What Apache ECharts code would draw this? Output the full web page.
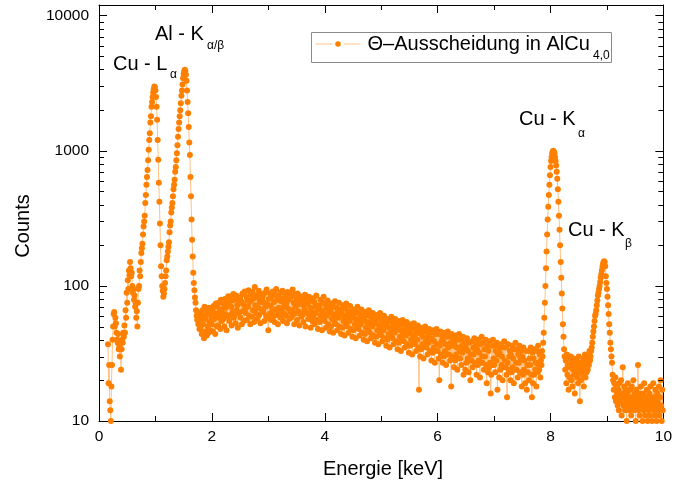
<!DOCTYPE html>
<html><head><meta charset="utf-8">
<script src="https://cdn.jsdelivr.net/npm/echarts@6/dist/echarts.min.js"></script>
<style>html,body{margin:0;padding:0;background:#fff}#c{width:675px;height:484px}</style>
</head><body><div id="c"></div>
<script>
// channel calibration of the spectrum (keV)
const energyStartChannel = 16;   // first channel = 0.16 keV
const channelsPerKeV = 100;      // 0.01 keV per channel

// counts per channel, one row = 0.1 keV
const counts = [
 37,19,26,14,
 12,10,18,26,40,50,62,64,50,58,
 53,45,40,38,44,34,36,30,34,24,
 34,40,38,45,42,51,45,66,58,89,
 75,110,95,130,120,150,135,118,125,100,
 89,95,79,85,70,75,58,65,50,75,
 95,100,130,118,150,175,190,205,240,275,
 300,330,410,470,560,640,720,850,1020,1200,
 1350,1620,1800,2120,2300,2500,2700,2850,2990,2950,
 2800,2500,2120,1700,1200,860,580,420,290,200,
 140,118,100,92,83,88,95,105,118,130,
 155,165,180,195,210,250,280,300,350,380,
 410,460,520,560,610,700,760,850,960,1100,
 1270,1450,1620,1800,2000,2250,2550,2800,3100,3450,
 3700,3900,3980,3900,3650,3300,2800,2300,1900,1500,
 1150,930,640,460,310,220,165,125,105,93,
 82,75,66,60,56,62,52,58,48,55,
 48,63,44,66,52,59,41,70,57,46,
 61,43,66,50,45,69,54,47,63,58,
 52,67,46,71,57,63,44,74,60,50,
 70,51,75,58,64,48,79,55,67,60,
 57,73,50,80,62,69,47,76,59,84,
 74,55,83,61,70,51,78,64,87,58,
 60,79,53,85,66,72,49,81,63,75,
 82,58,77,52,88,65,73,55,91,68,
 63,84,56,79,70,93,60,76,52,86,
 78,59,90,66,81,54,98,72,63,85,
 57,82,69,92,61,76,53,87,67,79,
 84,64,75,55,89,70,60,94,73,58,
 47,80,62,88,71,56,83,65,91,59,
 76,54,86,67,95,61,79,52,84,69,
 63,89,58,77,66,92,55,81,71,62,
 85,60,74,53,90,68,79,57,87,64,
 58,83,66,94,61,75,52,86,70,63,
 79,56,88,65,73,51,84,62,77,59,
 61,80,54,71,66,86,50,75,63,82,
 74,57,83,60,69,49,78,64,55,81,
 58,76,52,70,63,85,56,72,48,67,
 71,54,79,60,66,47,75,57,83,62,
 55,73,49,68,60,78,52,64,71,46,
 66,50,74,57,62,45,70,54,77,59,
 52,69,47,64,58,75,50,61,67,44,
 63,49,72,55,60,43,68,53,74,57,
 50,65,45,61,55,71,48,58,64,42,
 60,47,67,52,57,41,64,50,70,55,
 48,62,43,58,52,67,45,56,61,40,
 57,44,64,49,54,39,61,47,66,52,
 45,59,41,55,50,63,43,53,58,38,
 54,42,61,47,52,37,58,45,63,49,
 43,56,39,52,47,60,41,50,55,36,
 51,40,57,44,49,35,55,42,59,46,
 41,53,37,50,45,57,39,48,52,34,
 49,38,55,42,47,33,52,40,56,44,
 39,51,35,47,43,54,37,45,50,32,
 46,36,52,40,44,31,49,38,53,42,
 37,48,33,45,40,51,35,17,47,30,
 44,34,49,37,42,29,46,36,50,39,
 35,46,31,42,38,48,33,40,45,28,
 41,32,47,35,39,27,44,33,48,37,
 33,44,29,20,36,46,31,39,42,27,
 39,30,45,33,37,26,42,31,46,35,
 31,42,28,38,18,44,30,36,40,25,
 37,28,43,31,35,24,40,29,44,33,
 29,40,26,36,32,42,22,34,38,24,
 35,27,41,29,33,23,38,28,20,31,
 28,39,25,35,31,41,27,33,37,22,
 34,26,40,28,32,21,37,27,42,30,
 27,38,24,34,30,40,26,19,36,23,
 33,25,39,27,16,22,36,26,40,29,
 26,36,23,33,28,38,17,31,35,21,
 32,24,37,26,30,20,35,25,39,28,
 25,35,22,15,27,37,24,30,33,20,
 31,23,36,25,29,19,34,24,38,27,
 24,34,21,31,27,36,23,29,33,18,
 30,22,35,24,28,19,33,23,17,26,
 23,33,20,29,26,35,22,15,32,19,
 29,22,34,24,27,18,33,23,36,26,
 24,31,21,28,26,33,30,38,45,58,
 75,100,135,180,240,310,385,470,560,660,
 760,840,900,960,990,1000,985,960,900,840,
 780,700,620,520,420,330,260,200,150,115,
 88,68,52,42,34,30,24,28,19,31,
 22,26,17,29,21,25,30,20,27,18,
 24,29,22,16,26,23,28,21,25,19,
 30,23,14,27,20,24,26,22,29,18,
 25,31,21,27,23,28,24,30,26,33,
 28,30,33,35,38,42,46,50,55,60,
 62,66,72,78,85,89,95,100,107,115,
 122,130,138,145,150,152,150,140,118,105,
 95,83,72,62,52,45,38,34,30,27,
 22,20,17,19,15,21,14,18,16,13,
 17,12,19,15,14,20,11,16,25,13,
 15,18,12,17,14,10,16,19,13,15,
 12,17,14,11,18,15,13,20,12,16,
 14,10,17,13,15,26,12,16,11,14,
 18,13,15,10,16,12,19,14,11,15,
 13,17,10,14,12,16,11,18,13,15,
 10,14,19,12,15,11,17,13,10,16,
 14,12,18,11,15,20,13,10,17,12
];

const seriesName = 'Θ–Ausscheidung in AlCu';
const seriesSub = '4,0';
const xTicks = [0, 2, 4, 6, 8, 10];
const yTickLabels = [10, 100, 1000, 10000];
const yMinorTicks = [20,30,40,50,60,70,80,90,200,300,400,500,600,700,800,900,2000,3000,4000,5000,6000,7000,8000,9000];
const annotations = [
  {main: 'Al - K', sub: 'α/β'},
  {main: 'Cu - L', sub: 'α'},
  {main: 'Cu - K', sub: 'α'},
  {main: 'Cu - K', sub: 'β'}
];
const xTitle = 'Energie [keV]';
const yTitle = 'Counts';

const xMin = 0, xMax = 10, yMin = 10, yMax = 12000;

const points = counts.map((c, i) => [(energyStartChannel + i) / channelsPerKeV, c]);

const FONT = '"Liberation Sans", Arial, sans-serif';
const chart = echarts.init(document.getElementById('c'), null, {renderer: 'canvas'});

function isPow10(v) { const l = Math.log10(v); return Math.abs(l - Math.round(l)) < 1e-6; }

const xAxisBase = {
  type: 'value', min: xMin, max: xMax, interval: 2,
  axisLine: {show: true, onZero: false, lineStyle: {color: '#000', width: 1}},
  axisTick: {show: true, inside: true, length: 8, lineStyle: {color: '#000'}},
  minorTick: {show: true, splitNumber: 2, length: 5, lineStyle: {color: '#000'}},
  splitLine: {show: false}, minorSplitLine: {show: false}
};
const yAxisBase = {
  type: 'log', logBase: 10, min: yMin, max: yMax,
  axisLine: {show: true, onZero: false, lineStyle: {color: '#000', width: 1}},
  axisTick: {show: true, inside: true, length: 8, lineStyle: {color: '#000'}},
  splitLine: {show: false}
};

const textEls = [];
// annotation placement (text positions only)
const annPos = [
  {x: 155, y: 34, sx: 207, sy: 46},
  {x: 113, y: 64, sx: 170, sy: 75},
  {x: 519, y: 119.5, sx: 578, sy: 134},
  {x: 568, y: 230.5, sx: 625, sy: 244}
];
annotations.forEach((a, i) => {
  const p = annPos[i];
  textEls.push({type: 'text', x: p.x, y: p.y, style: {text: a.main, font: '20px ' + FONT, fill: '#000', align: 'left', verticalAlign: 'middle'}});
  textEls.push({type: 'text', x: p.sx, y: p.sy, style: {text: a.sub, font: '12px ' + FONT, fill: '#000', align: 'left', verticalAlign: 'middle'}});
});

chart.setOption({
  animation: false,
  backgroundColor: '#fff',
  grid: {left: 99, right: 10, top: 5, bottom: 63, containLabel: false},
  xAxis: [
    Object.assign({}, xAxisBase, {position: 'bottom',
      axisLabel: {show: true, color: '#000', fontSize: 15.5, fontFamily: FONT, margin: 8}}),
    Object.assign({}, xAxisBase, {position: 'top', axisLabel: {show: false}})
  ],
  yAxis: [
    Object.assign({}, yAxisBase, {position: 'left',
      axisLabel: {show: true, color: '#000', fontSize: 15.5, fontFamily: FONT, margin: 10,
        formatter: v => isPow10(v) ? String(Math.round(v)) : ''}}),
    Object.assign({}, yAxisBase, {position: 'right', axisLabel: {show: false}})
  ],
  legend: {
    data: [seriesName], left: 315, top: 34, padding: 0,
    itemWidth: 45, itemHeight: 7, itemGap: 0,
    lineStyle: {type: [17, 11], width: 1},
    textStyle: {color: '#000', fontSize: 20, fontFamily: FONT, padding: [0, 0, 0, 2]},
    selectedMode: false
  },
  graphic: [
    {type: 'rect', shape: {x: 311.5, y: 32.5, width: 300, height: 30}, style: {fill: 'none', stroke: '#8a8a8a', lineWidth: 1}, silent: true},
    {type: 'text', x: 593, y: 56, style: {text: seriesSub, font: '12px ' + FONT, fill: '#000', align: 'left', verticalAlign: 'middle'}},
    {type: 'text', x: 383, y: 469, style: {text: xTitle, font: '20px ' + FONT, fill: '#000', align: 'center', verticalAlign: 'middle'}},
    {type: 'text', x: 23, y: 226, rotation: Math.PI / 2, style: {text: yTitle, font: '20px ' + FONT, fill: '#000', align: 'center', verticalAlign: 'middle'}}
  ].concat(textEls),
  series: [
    {
      type: 'line', name: seriesName, xAxisIndex: 0, yAxisIndex: 0,
      data: points, symbol: 'circle', symbolSize: 6, showSymbol: true, showAllSymbol: true,
      lineStyle: {color: '#FFC080', width: 1}, itemStyle: {color: '#FF8000'},
      emphasis: {disabled: true}, silent: true, clip: true, z: 3
    },
    {
      type: 'custom', name: 'minorTicks', xAxisIndex: 0, yAxisIndex: 0, silent: true, z: 5,
      data: yMinorTicks.map(v => [xMin, v]),
      encode: {x: 0, y: 1},
      renderItem: (params, api) => {
        const v = api.value(1);
        const pl = api.coord([xMin, v]);
        const pr = api.coord([xMax, v]);
        const y = Math.round(pl[1]) + 0.5;
        return {type: 'group', children: [
          {type: 'line', shape: {x1: pl[0], y1: y, x2: pl[0] + 5, y2: y}, style: {stroke: '#000', lineWidth: 1}},
          {type: 'line', shape: {x1: pr[0], y1: y, x2: pr[0] - 5, y2: y}, style: {stroke: '#000', lineWidth: 1}}
        ]};
      }
    }
  ]
});
</script></body></html>
